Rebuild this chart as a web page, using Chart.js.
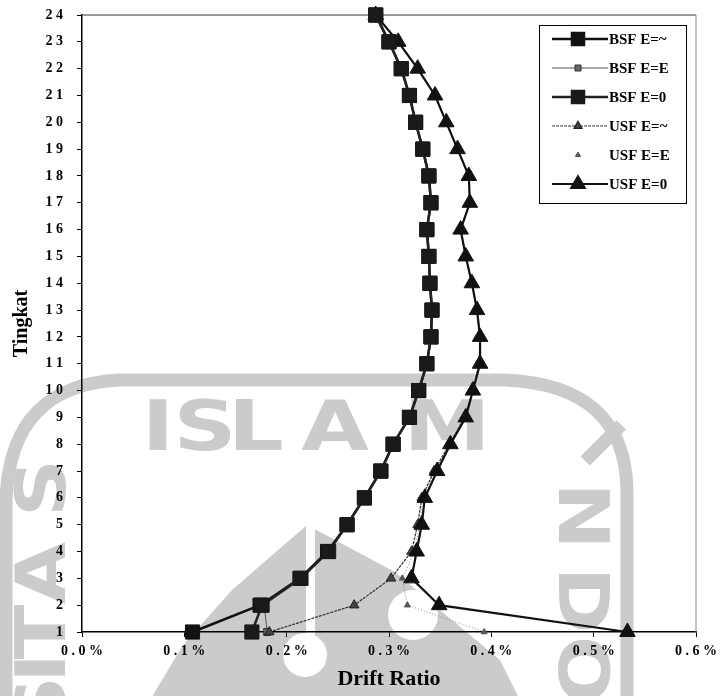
<!DOCTYPE html>
<html>
<head>
<meta charset="utf-8">
<script src="https://cdn.jsdelivr.net/npm/chart.js@4.4.1/dist/chart.umd.min.js"></script>
<style>
  body { margin: 0; background: #fff; }
  #wrap { width: 723px; height: 696px; }
</style>
</head>
<body>
<div id="wrap"><canvas id="drift" width="723" height="696"></canvas></div>
<script>
// storey numbers and drift ratio (%) per storey, bottom to top
const floors = [1,2,3,4,5,6,7,8,9,10,11,12,13,14,15,16,17,18,19,20,21,22,23,24];

const bsfInf = [0.108,0.174,0.213,0.240,0.259,0.276,0.292,0.304,0.320,0.329,0.337,0.341,0.342,0.340,0.339,0.337,0.341,0.339,0.333,0.326,0.320,0.312,0.300,0.287];
const bsfE   = [0.181,0.178,0.213,0.240,0.259,0.276,0.292,0.304,0.320,0.329,0.337,0.341,0.342,0.340,0.339,0.337,0.341,0.339,0.333,0.326,0.320,0.312,0.300,0.287];
const bsf0   = [0.166,0.176,0.214,0.241,0.259,0.276,0.292,0.304,0.320,0.329,0.337,0.341,0.342,0.340,0.339,0.337,0.341,0.339,0.333,0.326,0.320,0.312,0.300,0.287];
const usfInf = [0.183,0.266,0.302,0.322,0.328,0.332,0.344,0.359,0.374,0.382,0.388,0.389,0.386,0.381,0.375,0.370,0.379,0.378,0.367,0.356,0.345,0.328,0.309,0.287];
const usfE   = [0.393,0.318,0.313,0.325,0.330,0.333,0.345,0.360,0.375,0.382,0.389,0.389,0.386,0.381,0.375,0.370,0.379,0.378,0.367,0.356,0.345,0.328,0.309,0.287];
const usf0   = [0.533,0.349,0.322,0.327,0.332,0.335,0.347,0.360,0.375,0.382,0.389,0.389,0.386,0.381,0.375,0.370,0.379,0.378,0.367,0.356,0.345,0.328,0.309,0.287];

const seriesNames = ["BSF E=~", "BSF E=E", "BSF E=0", "USF E=~", "USF E=E", "USF E=0"];
const xTicks = [0, 0.1, 0.2, 0.3, 0.4, 0.5, 0.6];

function pts(vals) {
  return vals.map((v, i) => ({ x: v, y: floors[i] }));
}

const serif = "'Liberation Serif', 'Times New Roman', serif";
const grey = "#cbcbcb";

// faint university seal printed behind the plot
const sealPlugin = {
  id: "seal",
  beforeDraw(chart) {
    const ctx = chart.ctx;
    ctx.save();
    ctx.fillStyle = grey;
    ctx.strokeStyle = grey;
    ctx.lineWidth = 13;
    ctx.beginPath();
    ctx.moveTo(6, 700);
    ctx.lineTo(6, 500);
    ctx.quadraticCurveTo(10, 385, 120, 380);
    ctx.lineTo(505, 380);
    ctx.quadraticCurveTo(625, 385, 627, 490);
    ctx.lineTo(627, 700);
    ctx.stroke();

    ctx.font = "bold 70px 'DejaVu Sans'";
    ctx.textAlign = "center";
    ctx.textBaseline = "middle";
    const letter = (ch, x, y, rot, sx) => {
      ctx.save();
      ctx.translate(x, y);
      ctx.rotate(rot);
      ctx.scale(sx, 1);
      ctx.fillText(ch, 0, 0);
      ctx.restore();
    };
    [["I",158],["S",205],["L",256],["A",335],["M",447]].forEach(l => letter(l[0], l[1], 432, 0, 1.25));
    [["S",488],["A",573],["T",632],["I",668],["S",705]].forEach(l => letter(l[0], 47, l[1], -Math.PI / 2, 1.15));
    letter("I", 598, 448, Math.PI / 4, 1);
    [["N",516],["D",600],["O",670]].forEach(l => letter(l[0], 577, l[1], Math.PI / 2, 1.15));

    ctx.beginPath();
    ctx.moveTo(150, 700);
    ctx.lineTo(183, 645);
    ctx.lineTo(232, 590);
    ctx.lineTo(307, 525);
    ctx.lineTo(395, 572);
    ctx.lineTo(440, 610);
    ctx.lineTo(500, 660);
    ctx.lineTo(520, 700);
    ctx.closePath();
    ctx.fill();
    ctx.fillStyle = "#fff";
    ctx.fillRect(306, 525, 9, 125);
    ctx.beginPath();
    ctx.arc(305, 655, 22, 0, Math.PI * 2);
    ctx.fill();
    ctx.beginPath();
    ctx.arc(413, 615, 25, 0, Math.PI * 2);
    ctx.fill();
    ctx.restore();
  }
};

// frame round the plot and the boxed legend
const framePlugin = {
  id: "frame",
  beforeDatasetsDraw(chart) {
    const { ctx, chartArea: a } = chart;
    ctx.save();
    ctx.lineWidth = 1;
    ctx.strokeStyle = "#333";
    ctx.beginPath();
    ctx.moveTo(a.left, a.top);
    ctx.lineTo(a.right, a.top);
    ctx.stroke();
    ctx.strokeStyle = "#888";
    ctx.beginPath();
    ctx.moveTo(a.right, a.top);
    ctx.lineTo(a.right, a.bottom);
    ctx.stroke();
    ctx.restore();
  },
  afterDraw(chart) {
    const ctx = chart.ctx;
    const box = { x: 539, y: 25, w: 147, h: 178 };
    ctx.save();
    ctx.fillStyle = "#fff";
    ctx.fillRect(box.x, box.y, box.w, box.h);
    ctx.strokeStyle = "#000";
    ctx.lineWidth = 1;
    ctx.strokeRect(box.x + 0.5, box.y + 0.5, box.w, box.h);
    ctx.font = "bold 15px " + serif;
    ctx.textBaseline = "middle";
    ctx.textAlign = "left";
    chart.data.datasets.forEach((ds, i) => {
      const y = 39 + i * 29;
      ctx.save();
      if (ds.legendLine !== false) {
        ctx.strokeStyle = ds.borderColor;
        ctx.lineWidth = ds.borderWidth;
        ctx.setLineDash(ds.borderDash || []);
        ctx.beginPath();
        ctx.moveTo(552, y);
        ctx.lineTo(608, y);
        ctx.stroke();
      }
      ctx.setLineDash([]);
      ctx.fillStyle = ds.pointBackgroundColor;
      ctx.strokeStyle = ds.pointBorderColor;
      Chart.helpers.drawPoint(ctx, {
        pointStyle: ds.pointStyle,
        radius: ds.pointRadius * 0.85,
        rotation: 0,
        borderWidth: 1
      }, 578, y);
      ctx.restore();
      ctx.fillStyle = "#000";
      ctx.fillText(seriesNames[i], 609, y + 1);
    });
    ctx.restore();
  }
};

function series(i, vals, style) {
  return Object.assign({
    label: seriesNames[i],
    data: pts(vals),
    showLine: true,
    clip: false,
    tension: 0,
    pointBorderWidth: 1
  }, style);
}

// thin series sit underneath the heavy ones (higher order is drawn first)
const datasets = [
  series(0, bsfInf, { order: 1, borderColor: "#111", borderWidth: 2.5, pointStyle: "rect", pointRadius: 10,
    pointBackgroundColor: "#111", pointBorderColor: "#111" }),
  series(1, bsfE, { order: 3, borderColor: "#555", borderWidth: 1, pointStyle: "rect", pointRadius: 5,
    pointBackgroundColor: "#666", pointBorderColor: "#333" }),
  series(2, bsf0, { order: 0, borderColor: "#222", borderWidth: 2.5, pointStyle: "rect", pointRadius: 10,
    pointBackgroundColor: "#1a1a1a", pointBorderColor: "#1a1a1a" }),
  series(3, usfInf, { order: 2, borderColor: "#333", borderWidth: 1.2, borderDash: [3, 1], pointStyle: "triangle", pointRadius: 5.5,
    pointBackgroundColor: "#444", pointBorderColor: "#222" }),
  series(4, usfE, { order: 3, borderColor: "#888", borderWidth: 1, borderDash: [1, 2], pointStyle: "triangle", pointRadius: 3.5,
    pointBackgroundColor: "#555", pointBorderColor: "#555", legendLine: false }),
  series(5, usf0, { order: 0, borderColor: "#111", borderWidth: 2.2, pointStyle: "triangle", pointRadius: 9,
    pointBackgroundColor: "#111", pointBorderColor: "#111" })
];

new Chart(document.getElementById("drift"), {
  type: "scatter",
  data: { datasets: datasets },
  plugins: [sealPlugin, framePlugin],
  options: {
    responsive: false,
    animation: false,
    layout: { padding: { left: 0, right: 26, top: 15, bottom: 0 } },
    plugins: { legend: { display: false }, tooltip: { enabled: false } },
    scales: {
      x: {
        type: "linear",
        min: 0,
        max: 0.6,
        afterBuildTicks: s => { s.ticks = xTicks.map(v => ({ value: v })); },
        afterFit: s => { s.height = 64; },
        grid: { drawOnChartArea: false, drawTicks: true, tickLength: 5, color: "#000" },
        border: { color: "#000", width: 1.5 },
        ticks: {
          padding: 6,
          color: "#000",
          font: { family: serif, size: 14, weight: "bold" },
          callback: v => v.toFixed(1).split("").join(" ") + " %"
        },
        title: {
          display: true,
          text: "Drift Ratio",
          color: "#000",
          font: { family: serif, size: 22, weight: "bold" },
          padding: { top: 0, bottom: 3 }
        }
      },
      y: {
        type: "linear",
        min: 1,
        max: 24,
        afterBuildTicks: s => { s.ticks = floors.map(v => ({ value: v })); },
        afterFit: s => { s.width = 82; s.paddingTop = 0; s.paddingBottom = 0; },
        grid: { drawOnChartArea: false, drawTicks: true, tickLength: 5, color: "#000" },
        border: { color: "#000", width: 1.5 },
        ticks: {
          padding: 14,
          color: "#000",
          font: { family: serif, size: 14, weight: "bold" },
          callback: v => String(v).split("").join(" ")
        },
        title: {
          display: true,
          text: "Tingkat",
          color: "#000",
          font: { family: serif, size: 20, weight: "bold" },
          padding: { top: 10, bottom: 0 }
        }
      }
    }
  }
});
</script>
</body>
</html>
